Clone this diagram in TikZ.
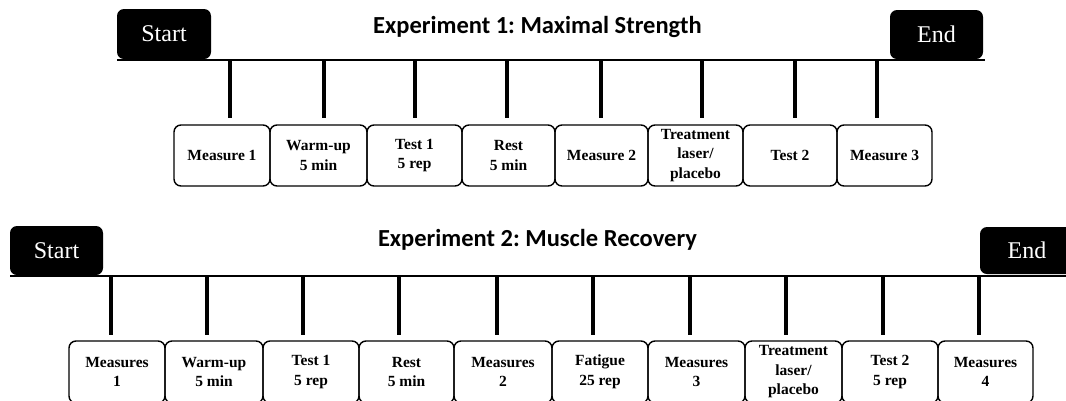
\documentclass[tikz,border=0pt]{standalone}
\usepackage{fontspec}
\setmainfont{Liberation Serif}
\newfontfamily\titlefont{Carlito}
\frenchspacing
\tikzset{
  stepbox/.style={draw, line width=1.4pt, rounded corners=7pt, align=center, inner sep=0pt,
    font=\bfseries\fontsize{15.5}{19.5}\selectfont},
  term/.style={fill=black, rounded corners=7pt, text=white, inner sep=0pt,
    font=\fontsize{24}{28}\selectfont},
  tickline/.style={line width=4pt},
  tline/.style={line width=2pt},
  ttl/.style={font=\titlefont\bfseries\fontsize{24.5}{28}\selectfont}
}
\newcommand\mybox[6]{%
  \node[stepbox, minimum width={#3-#2}, minimum height={#5-#4}] (#1) at ({(#2+#3)/2},{(#4+#5)/2}) {#6};}
\newcommand\myterm[6]{%
  \node[term, minimum width={#3-#2}, minimum height={#5-#4}] (#1) at ({(#2+#3)/2},{(#4+#5)/2}) {#6};}
\begin{document}
\begin{tikzpicture}[x=1pt,y=-1pt]
\useasboundingbox (0,0) rectangle (1066,400);
\clip (0,0) rectangle (1066,400);
% ---------- Experiment 1 ----------
\node[ttl] (title1) at (537.5,27) {Experiment 1: Maximal Strength};
\myterm{s1}{117}{211}{9}{59}{Start}
\myterm{e1}{890}{983}{10}{59}{End}
\coordinate (l1a) at (117,60);
\coordinate (l1b) at (985,60);
\draw[tline] (l1a) -- (l1b);
\mybox{a1}{174}{270}{125}{186}{Measure 1}
\mybox{a2}{270}{367}{125}{186}{Warm-up\\5 min}
\mybox{a3}{367}{462}{125}{186}{Test 1\\5 rep}
\mybox{a4}{462}{555}{125}{186}{Rest\\5 min}
\mybox{a5}{555}{648}{125}{186}{Measure 2}
\mybox{a6}{648}{743}{125}{186}{Treatment\\laser/\\placebo}
\mybox{a7}{743}{837}{125}{186}{Test 2}
\mybox{a8}{837}{932}{125}{186}{Measure 3}
\foreach \i/\x in {1/230,2/324,3/415,4/507,5/601,6/702,7/795,8/877}{
  \coordinate (ta\i) at (\x,60);
  \coordinate (tb\i) at (\x,118);
  \draw[tickline] (ta\i) -- (tb\i);
}
% ---------- Experiment 2 ----------
\node[ttl] (title2) at (537.5,240) {Experiment 2: Muscle Recovery};
\myterm{s2}{10}{103}{226}{275}{Start}
\myterm{e2}{980}{1074}{227}{274}{End}
\coordinate (l2a) at (10,276);
\coordinate (l2b) at (1074,276);
\draw[tline] (l2a) -- (l2b);
\mybox{b1}{69}{165}{341}{403}{Measures\\1}
\mybox{b2}{165}{263}{341}{403}{Warm-up\\5 min}
\mybox{b3}{263}{359}{341}{403}{Test 1\\5 rep}
\mybox{b4}{359}{454}{341}{403}{Rest\\5 min}
\mybox{b5}{454}{552}{341}{403}{Measures\\2}
\mybox{b6}{552}{648}{341}{403}{Fatigue\\25 rep}
\mybox{b7}{648}{745}{341}{403}{Measures\\3}
\mybox{b8}{745}{842}{341}{403}{Treatment\\laser/\\placebo}
\mybox{b9}{842}{938}{341}{403}{Test 2\\5 rep}
\mybox{b10}{938}{1033}{341}{403}{Measures\\4}
\foreach \i/\x in {1/111,2/207,3/303,4/399,5/497,6/593,7/690,8/786,9/883,10/979}{
  \coordinate (tc\i) at (\x,276);
  \coordinate (td\i) at (\x,335);
  \draw[tickline] (tc\i) -- (td\i);
}
\end{tikzpicture}
\end{document}
